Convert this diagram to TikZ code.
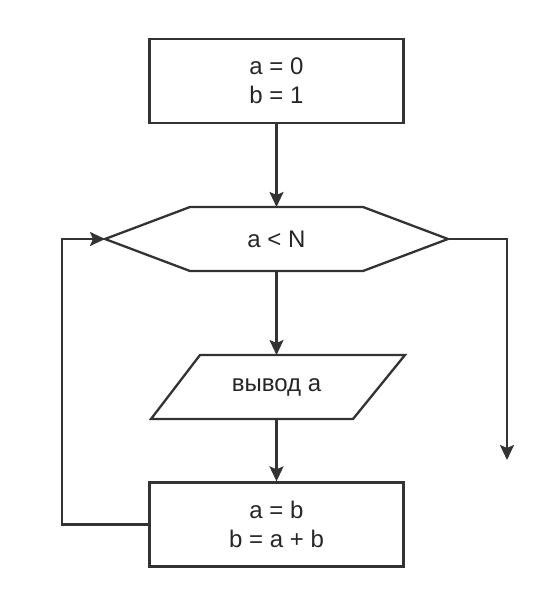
\documentclass[tikz,border=0pt]{standalone}
\usepackage{fontspec}
\setmainfont{Liberation Sans}
\usetikzlibrary{arrows.meta}
\begin{document}
\begin{tikzpicture}[x=1pt,y=-1pt,
  line width=2.3pt,
  ink/.style={draw=black!80},
  flow/.style={ink,-{Stealth[length=15pt,width=14pt,inset=3pt]}},
  txt/.style={font=\fontsize{24}{29}\selectfont,align=center,text=black!85,inner sep=0pt},
  procbox/.style={ink,txt,rectangle,minimum width=254pt,minimum height=84pt}]
\useasboundingbox (0,0) rectangle (558,608);

% initial values
\node[procbox] (init) at (276.5,81) {a = 0\\b = 1};

% loop condition (hexagon)
\coordinate (hexL) at (105,239);
\coordinate (hexR) at (448,239);
\coordinate (hexT) at (276.5,207);
\coordinate (hexB) at (276.5,271);
\draw[ink,line join=miter] (hexL) -- (190,207) -- (363,207) -- (hexR) -- (363,271) -- (190,271) -- cycle;
\node[txt] (cond) at (276.5,239) {a < N};

% output (parallelogram)
\coordinate (outT) at (276.5,355);
\coordinate (outB) at (276.5,419);
\draw[ink,line join=miter] (200,355) -- (405,355) -- (353,419) -- (151,419) -- cycle;
\node[txt] (out) at (276.5,387) {вывод а};

% update step
\node[procbox] (step2) at (276.5,524.5) {a = b\\b = a + b};

% exit end
\coordinate (exitEnd) at (507,460);
\coordinate (loopX) at (62,0);

\draw[flow] (init.south) -- (hexT);
\draw[flow] (hexB) -- (outT);
\draw[flow] (outB) -- (step2.north);
\draw[flow] (step2.west) -| (loopX |- hexL) -- (hexL);
\draw[flow] (hexR) -| (exitEnd);
\end{tikzpicture}
\end{document}
